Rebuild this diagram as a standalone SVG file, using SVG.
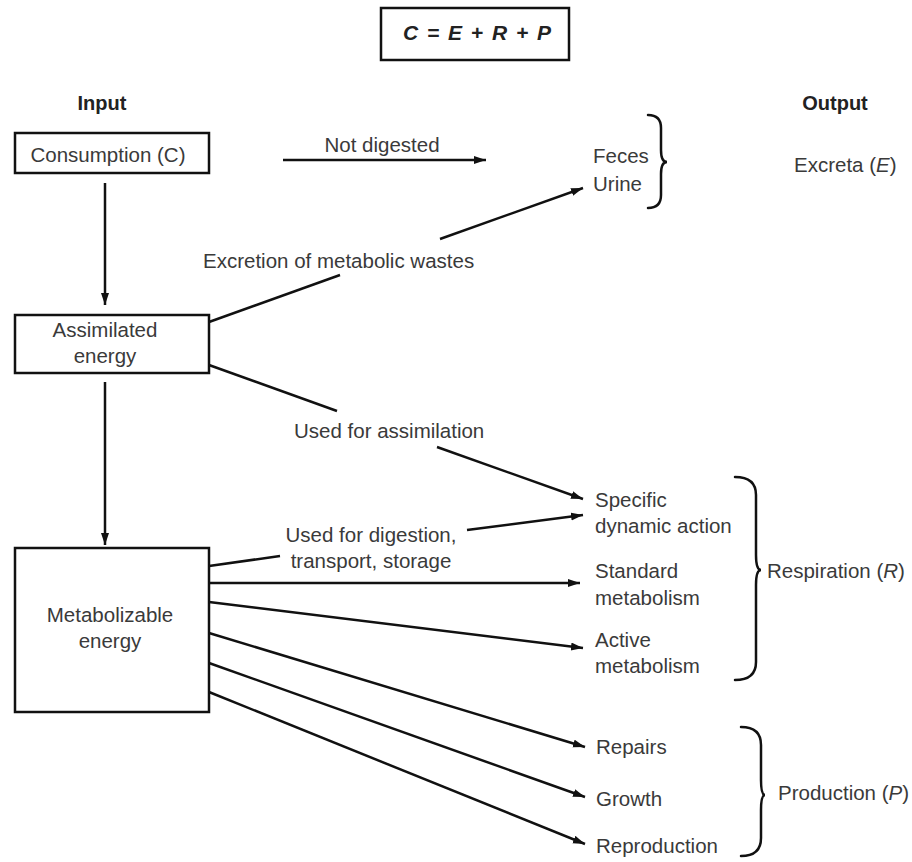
<svg xmlns="http://www.w3.org/2000/svg" width="912" height="862" viewBox="0 0 912 862">
<defs>
<marker id="ah" markerUnits="userSpaceOnUse" markerWidth="14" markerHeight="10" refX="12" refY="4" orient="auto">
<path d="M0,0 L12,4 L0,8 Z" fill="#111"/>
</marker>
<style>
.t{font-family:"Liberation Sans",Arial,sans-serif;font-size:20.5px;fill:#3a3a3a}
.h{font-family:"Liberation Sans",Arial,sans-serif;font-size:20px;font-weight:bold;fill:#222}
.eq{font-family:"Liberation Sans",Arial,sans-serif;font-size:21px;font-weight:bold;font-style:italic;fill:#222;word-spacing:3px}
.box{fill:#fff;stroke:#111;stroke-width:2.5}
.ln{fill:none;stroke:#111;stroke-width:2.5}
.arr{fill:none;stroke:#111;stroke-width:2.5;marker-end:url(#ah)}
.br{fill:none;stroke:#111;stroke-width:2.5;stroke-linecap:round}
</style>
</defs>
<rect width="912" height="862" fill="#fff"/>

<g id="equation">
<rect class="box" x="381" y="8" width="188" height="52"/>
<text class="eq" x="477" y="40" text-anchor="middle">C = E + R + P</text>
</g>

<g id="headers">
<text class="h" x="102" y="110" text-anchor="middle">Input</text>
<text class="h" x="835" y="110" text-anchor="middle">Output</text>
</g>

<g id="consumption">
<rect class="box" x="15" y="133" width="194" height="40"/>
<text class="t" x="108" y="162" text-anchor="middle">Consumption (C)</text>
</g>

<g id="assimilated">
<rect class="box" x="15" y="315" width="194" height="58"/>
<text class="t" x="105" y="337" text-anchor="middle">Assimilated</text>
<text class="t" x="105" y="363" text-anchor="middle">energy</text>
</g>

<g id="metabolizable">
<rect class="box" x="15" y="548" width="194" height="164"/>
<text class="t" x="110" y="622" text-anchor="middle">Metabolizable</text>
<text class="t" x="110" y="648" text-anchor="middle">energy</text>
</g>

<g id="excreta">
<text class="t" x="593" y="163">Feces</text>
<text class="t" x="593" y="191">Urine</text>
<path class="br" d="M648 115 Q661 115 661 128 L661 150 Q661 162 667 162 Q661 162 661 174 L661 195 Q661 208 648 208"/>
<text class="t" x="794" y="172">Excreta (<tspan font-style="italic">E</tspan>)</text>
</g>

<g id="respiration">
<text class="t" x="595" y="507">Specific</text>
<text class="t" x="595" y="533">dynamic action</text>
<text class="t" x="595" y="578">Standard</text>
<text class="t" x="595" y="605">metabolism</text>
<text class="t" x="595" y="647">Active</text>
<text class="t" x="595" y="673">metabolism</text>
<path class="br" d="M735 477 Q756 477 756 495 L756 555 Q756 570 761 570 Q756 570 756 585 L756 662 Q756 680 735 680"/>
<text class="t" x="767" y="578">Respiration (<tspan font-style="italic">R</tspan>)</text>
</g>

<g id="production">
<text class="t" x="596" y="754">Repairs</text>
<text class="t" x="596" y="806">Growth</text>
<text class="t" x="596" y="853">Reproduction</text>
<path class="br" d="M741 727 Q761 727 761 745 L761 780 Q761 795 765 795 Q761 795 761 810 L761 838 Q761 856 741 856"/>
<text class="t" x="778" y="800">Production (<tspan font-style="italic">P</tspan>)</text>
</g>

<g id="connectors">
<path class="arr" d="M105 183 L105 305"/>
<path class="arr" d="M105 382 L105 545"/>
<path class="arr" d="M283 160 L486 160"/>
<path class="ln" d="M209 322 L340 275"/>
<path class="arr" d="M440 239 L583 188"/>
<path class="ln" d="M209 365 L337 411"/>
<path class="arr" d="M437 447 L583 499"/>
<path class="ln" d="M209 566 L280 556"/>
<path class="arr" d="M467 530 L583 515"/>
<path class="arr" d="M209 583 L580 583"/>
<path class="arr" d="M209 602 L583 648"/>
<path class="arr" d="M209 633 L585 747"/>
<path class="arr" d="M209 663 L585 797"/>
<path class="arr" d="M209 692 L585 844"/>
</g>

<g id="labels">
<text class="t" x="382" y="152" text-anchor="middle">Not digested</text>
<text class="t" x="203" y="268">Excretion of metabolic wastes</text>
<text class="t" x="294" y="438">Used for assimilation</text>
<text class="t" x="371" y="542" text-anchor="middle">Used for digestion,</text>
<text class="t" x="371" y="568" text-anchor="middle">transport, storage</text>
</g>
</svg>
